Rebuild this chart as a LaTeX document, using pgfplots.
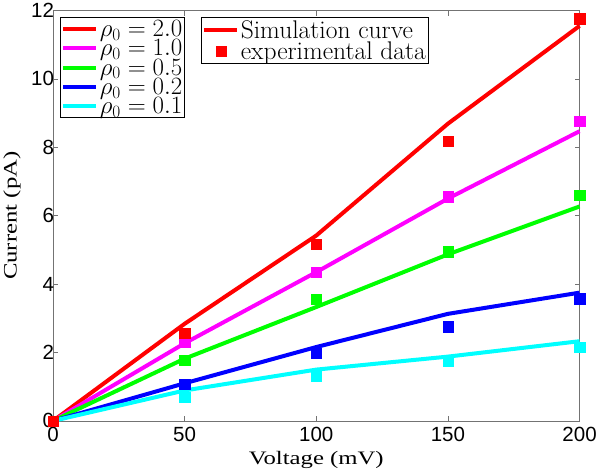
\documentclass[border=0pt]{standalone}
\usepackage{pgfplots}
\pgfplotsset{compat=1.18}
\usepackage{fontspec}
\newfontfamily\arialf{Liberation Sans}
\newfontfamily\timesf[FakeStretch=1.3]{Liberation Serif}
\definecolor{cRed}{rgb}{1,0,0}
\definecolor{cMag}{rgb}{1,0,1}
\definecolor{cGrn}{rgb}{0,1,0}
\definecolor{cBlu}{rgb}{0,0,1}
\definecolor{cCya}{rgb}{0,1,1}
\definecolor{axgray}{rgb}{0.45,0.45,0.45}

\pgfplotstableread{
x sim exp
0 0 0
50 2.84 2.57
100 5.42 5.16
150 8.69 8.17
200 11.55 11.76
}\redtab
\pgfplotstableread{
x sim exp
0 0 0
50 2.27 2.3
100 4.35 4.35
150 6.5 6.56
200 8.47 8.77
}\magtab
\pgfplotstableread{
x sim exp
0 0 0
50 1.82 1.77
100 3.33 3.55
150 4.87 4.95
200 6.27 6.6
}\grntab
\pgfplotstableread{
x sim exp
0 0 0
50 1.1 1.08
100 2.16 1.98
150 3.13 2.76
200 3.75 3.57
}\blutab
\pgfplotstableread{
x sim exp
0 0 0
50 0.89 0.7
100 1.5 1.3
150 1.88 1.75
200 2.33 2.16
}\cyatab

\begin{document}
\begin{tikzpicture}
\pgfplotsset{
  myax/.style={
    scale only axis, width=526pt, height=410pt,
    xmin=0, xmax=200, ymin=0, ymax=12,
  },
  simline/.style={line width=4pt, line join=round},
  expmark/.style={only marks, mark=square*, mark size=5.2pt, forget plot},
  mylegend/.style={
    font=\fontsize{25.5}{21}\selectfont, draw=black, line width=0.6pt,
    inner sep=1pt, row sep=-1.2pt, nodes={inner sep=1.5pt}},
}
\begin{axis}[myax,
  xtick={0,50,...,200}, ytick={0,2,...,12},
  tick align=inside, major tick length=5pt,
  axis line style={axgray, line width=0.7pt},
  tick style={axgray, line width=0.7pt},
  /pgf/number format/assume math mode=true,
  ticklabel style={font=\arialf\fontsize{20.5}{20.5}\selectfont},
  xticklabel style={yshift=-3pt},
  yticklabel style={xshift=4.5pt},
  xlabel={Voltage (mV)}, ylabel={Current (pA)},
  label style={font=\timesf\fontsize{19}{19}\selectfont},
  xlabel style={at={(axis description cs:0.5,-0.107)}, anchor=base},
  ylabel style={at={(axis description cs:-0.078,0.5)}, anchor=center},
  clip=false,
  legend style={mylegend, at={(0.0133,0.983)}, anchor=north west},
  legend cell align=left,
  legend image code/.code={\draw[line width=4pt] (0pt,0pt) -- (33pt,0pt);},
]
\addplot[expmark, color=cCya] table[x=x, y=exp] {\cyatab};
\addplot[expmark, color=cBlu] table[x=x, y=exp] {\blutab};
\addplot[expmark, color=cGrn] table[x=x, y=exp] {\grntab};
\addplot[expmark, color=cMag] table[x=x, y=exp] {\magtab};
\addplot[expmark, color=cRed] table[x=x, y=exp] {\redtab};
\addplot[simline, color=cRed] table[x=x, y=sim] {\redtab};
\addlegendentry{$\rho_0 = 2.0$}
\addplot[simline, color=cMag] table[x=x, y=sim] {\magtab};
\addlegendentry{$\rho_0 = 1.0$}
\addplot[simline, color=cGrn] table[x=x, y=sim] {\grntab};
\addlegendentry{$\rho_0 = 0.5$}
\addplot[simline, color=cBlu] table[x=x, y=sim] {\blutab};
\addlegendentry{$\rho_0 = 0.2$}
\addplot[simline, color=cCya] table[x=x, y=sim] {\cyatab};
\addlegendentry{$\rho_0 = 0.1$}
\end{axis}
\begin{axis}[myax, hide axis,
  legend style={mylegend, at={(0.281,0.983)}, anchor=north west},
  legend cell align=left,
]
\addlegendimage{legend image code/.code={\draw[cRed, line width=4pt] (0pt,0pt) -- (33pt,0pt);}}
\addlegendentry{Simulation curve}
\addlegendimage{legend image code/.code={\fill[cRed] (11.5pt,-5pt) rectangle (21.5pt,5pt);}}
\addlegendentry{experimental data}
\end{axis}
\end{tikzpicture}
\end{document}
